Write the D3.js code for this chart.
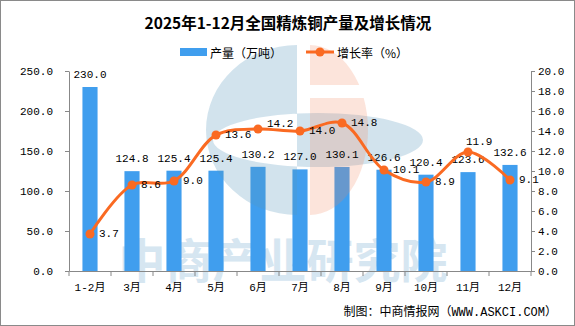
<!DOCTYPE html>
<html>
<head>
<meta charset="utf-8">
<script src="https://cdn.jsdelivr.net/npm/d3@7"></script>
<style>
  body { margin: 0; background: #fff; }
  svg { display: block; }
  .num { font-family: "Liberation Mono", "Noto Sans CJK SC", monospace; font-size: 11px; fill: #000; }
</style>
</head>
<body>
<div id="chart"></div>
<script>
const months = ['1-2月', '3月', '4月', '5月', '6月', '7月', '8月', '9月', '10月', '11月', '12月'];
const output = [230.0, 124.8, 125.4, 125.4, 130.2, 127.0, 130.1, 126.6, 120.4, 123.6, 132.6];
const growth = [3.7, 8.6, 9.0, 13.6, 14.2, 14.0, 14.8, 10.1, 8.9, 11.9, 9.1];
const leftTicks = [0, 50, 100, 150, 200, 250];
const rightTicks = [0, 2, 4, 6, 8, 10, 12, 14, 16, 18, 20];

const WIDTH = 575, HEIGHT = 326;
const BAR = '#409eee', LINE = '#fa6a22', AXIS = '#888';
const FONT = '"Noto Sans CJK SC", sans-serif';

const svg = d3.select('#chart').append('svg')
    .attr('width', WIDTH)
    .attr('height', HEIGHT);

svg.append('rect')
    .attr('x', 0.5).attr('y', 0.5)
    .attr('width', WIDTH - 1).attr('height', HEIGHT - 1)
    .attr('fill', '#fff').attr('stroke', '#8a8a8a');

const x = d3.scaleBand().domain(months).range([69, 531]);
const yL = d3.scaleLinear().domain([0, 250]).range([271, 71]);
const yR = d3.scaleLinear().domain([0, 20]).range([271, 71]);

// faint company name behind the plot
svg.append('text')
    .attr('x', 283).attr('y', 257)
    .attr('text-anchor', 'middle')
    .attr('dominant-baseline', 'central')
    .style('font-family', FONT).style('font-weight', 700).style('font-size', '47px')
    .attr('fill', '#d6e6f1')
    .text('中商产业研究院');

// bars
svg.append('g').selectAll('rect')
    .data(output)
    .join('rect')
    .attr('x', (d, i) => x(months[i]) + x.bandwidth() * 0.32)
    .attr('width', x.bandwidth() * 0.36)
    .attr('y', d => yL(d))
    .attr('height', d => yL(0) - yL(d))
    .attr('fill', BAR);

// logo overlay
const logo = svg.append('g');
logo.append('path')
    .attr('d', 'M297,45 A91,85 0 0 0 297,215 Z M318,113 A105,27 0 1 0 318,167 A105,27 0 1 0 318,113 Z')
    .attr('fill', 'rgb(90,150,190)').attr('fill-rule', 'evenodd').attr('opacity', 0.27);
logo.append('path')
    .attr('d', 'M310,45 A58,85 0 0 1 368,130 A58,85 0 0 1 310,215 Z')
    .attr('fill', 'rgb(240,130,90)').attr('opacity', 0.22);
logo.append('rect')
    .attr('x', 309).attr('y', 85).attr('width', 62).attr('height', 13)
    .attr('fill', '#fff');

// axes
const gL = svg.append('g')
    .attr('transform', 'translate(69,0)')
    .call(d3.axisLeft(yL).tickValues(leftTicks).tickFormat(d3.format('.1f'))
        .tickSize(4).tickSizeOuter(0).tickPadding(12));
const gR = svg.append('g')
    .attr('transform', 'translate(531,0)')
    .call(d3.axisRight(yR).tickValues(rightTicks).tickFormat(d3.format('.1f'))
        .tickSize(4).tickSizeOuter(0).tickPadding(3));
const gB = svg.append('g')
    .attr('transform', 'translate(0,271)')
    .call(d3.axisBottom(x).tickSize(0).tickSizeOuter(0));
gB.selectAll('text').attr('y', 17).attr('dy', null).attr('dominant-baseline', 'central');

// category boundary ticks
const bounds = months.map(m => x(m)).concat([x.range()[1]]);
gB.selectAll('.bound')
    .data(bounds)
    .join('line')
    .attr('class', 'bound')
    .attr('x1', d => d).attr('x2', d => d)
    .attr('y1', 0).attr('y2', 5)
    .attr('stroke', AXIS);

[gL, gR, gB].forEach(g => {
    g.attr('font-family', null).attr('font-size', null);
    g.selectAll('path, line').attr('stroke', AXIS);
    g.selectAll('text').attr('class', 'num').attr('fill', null);
});

// bar value labels
svg.append('g').selectAll('text')
    .data(output)
    .join('text')
    .attr('class', 'num')
    .attr('x', (d, i) => x(months[i]) + x.bandwidth() / 2)
    .attr('y', d => yL(d) - 12)
    .attr('text-anchor', 'middle')
    .attr('dominant-baseline', 'central')
    .text(d => d.toFixed(1));

// growth line
const cx = i => x(months[i]) + x.bandwidth() / 2;
const line = d3.line()
    .x((d, i) => cx(i))
    .y(d => yR(d))
    .curve(d3.curveCatmullRom.alpha(0.5));

svg.append('path')
    .datum(growth)
    .attr('d', line)
    .attr('fill', 'none')
    .attr('stroke', LINE)
    .attr('stroke-width', 3);

svg.append('g').selectAll('circle')
    .data(growth)
    .join('circle')
    .attr('cx', (d, i) => cx(i))
    .attr('cy', d => yR(d))
    .attr('r', 4.5)
    .attr('fill', LINE);

// growth labels sit right of the point, a couple are nudged to stay clear
const nudge = { '6月': [9, -5], '11月': [-2, -10] };
svg.append('g').selectAll('text')
    .data(growth)
    .join('text')
    .attr('class', 'num')
    .attr('x', (d, i) => cx(i) + (nudge[months[i]] || [9, 0])[0])
    .attr('y', (d, i) => yR(d) + (nudge[months[i]] || [9, 0])[1])
    .attr('dominant-baseline', 'central')
    .text(d => d.toFixed(1));

// title
svg.append('text')
    .attr('x', 288).attr('y', 22)
    .attr('text-anchor', 'middle')
    .attr('dominant-baseline', 'central')
    .style('font-family', FONT).style('font-weight', 700).style('font-size', '15.5px')
    .text('2025年1-12月全国精炼铜产量及增长情况');

// legend
const lg = svg.append('g').style('font-family', FONT).style('font-size', '12px');
lg.append('rect')
    .attr('x', 180).attr('y', 48).attr('width', 27).attr('height', 8)
    .attr('fill', BAR);
lg.append('text')
    .attr('x', 210).attr('y', 52).attr('dominant-baseline', 'central')
    .text('产量（万吨）');
lg.append('line')
    .attr('x1', 306).attr('x2', 334).attr('y1', 52).attr('y2', 52)
    .attr('stroke', LINE).attr('stroke-width', 3);
lg.append('circle')
    .attr('cx', 320).attr('cy', 52).attr('r', 4.5)
    .attr('fill', LINE);
lg.append('text')
    .attr('x', 337).attr('y', 52).attr('dominant-baseline', 'central')
    .text('增长率（%）');

// source note
svg.append('text')
    .attr('class', 'num')
    .attr('x', 557).attr('y', 313)
    .attr('text-anchor', 'end')
    .attr('dominant-baseline', 'central')
    .style('font-size', '12px')
    .text('制图：中商情报网（WWW.ASKCI.COM）');
</script>
</body>
</html>
